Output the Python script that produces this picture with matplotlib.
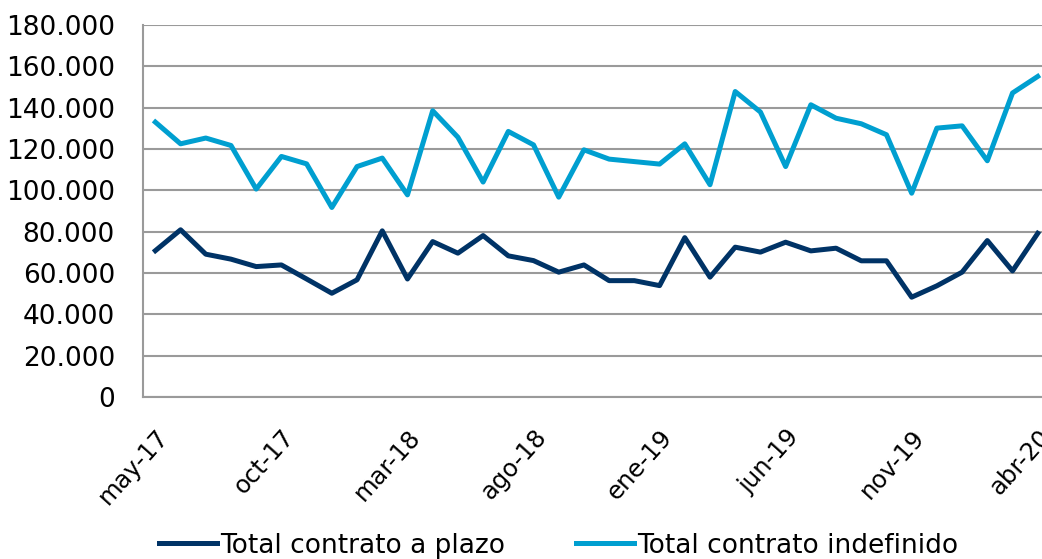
import matplotlib.pyplot as plt
from matplotlib.ticker import FuncFormatter

# meses de may-17 a abr-20
meses = ["may-17", "jun-17", "jul-17", "ago-17", "sep-17", "oct-17", "nov-17", "dic-17",
         "ene-18", "feb-18", "mar-18", "abr-18", "may-18", "jun-18", "jul-18", "ago-18",
         "sep-18", "oct-18", "nov-18", "dic-18", "ene-19", "feb-19", "mar-19", "abr-19",
         "may-19", "jun-19", "jul-19", "ago-19", "sep-19", "oct-19", "nov-19", "dic-19",
         "ene-20", "feb-20", "mar-20", "abr-20"]

plazo = [70800, 80900, 69100, 66700, 63100, 63900, 57100, 50200, 56700, 80400, 57100, 75200,
         69600, 78100, 68300, 66000, 60400, 63900, 56300, 56300, 53900, 77100, 58000, 72500,
         70100, 74900, 70700, 72000, 65900, 65900, 48300, 53800, 60400, 75700, 61000, 79200]

indefinido = [133000, 122500, 125300, 121700, 100600, 116400, 112800, 91700, 111500, 115600,
              97800, 138500, 125700, 104000, 128500, 122000, 96700, 119600, 115100, 113900,
              112700, 122500, 102700, 147800, 137900, 111500, 141400, 134900, 132200, 126900,
              98600, 130100, 131200, 114300, 147100, 155100]

plt.rcParams['font.family'] = ['DejaVu Sans']

fig = plt.figure(figsize=(10.42, 5.59), dpi=100)
ax = fig.add_axes([0.137, 0.2898, 0.871, 0.6655])

x = range(len(meses))
ax.plot(x, plazo, color="#003366", lw=3.6, label="Total contrato a plazo")
ax.plot(x, indefinido, color="#009fd0", lw=3.6, label="Total contrato indefinido")

ax.set_xlim(-0.5, len(meses) - 0.5)
ax.set_ylim(0, 180000)
ax.set_yticks(range(0, 180001, 20000))
ax.yaxis.set_major_formatter(FuncFormatter(lambda v, p: f"{int(v):,}".replace(",", ".")))
ax.grid(axis="y", color="#9a9a9a", lw=1.5)
ax.set_axisbelow(True)

pos = list(range(0, len(meses), 5))
ax.set_xticks(pos)
ax.set_xticklabels([meses[i] for i in pos], rotation=48, ha="right", rotation_mode="anchor")

for s in ["top", "right"]:
    ax.spines[s].set_visible(False)
for s in ["left", "bottom"]:
    ax.spines[s].set_color("#9a9a9a")
    ax.spines[s].set_linewidth(1.5)
ax.tick_params(axis="y", length=0, labelsize=19, colors="black", pad=20)
ax.tick_params(axis="x", length=0, labelsize=17.5, colors="black", pad=20)

fig.legend(loc="center", bbox_to_anchor=(0.536, 0.024), ncol=2, frameon=False,
           fontsize=19, handlelength=2.2, handletextpad=0.1, columnspacing=2.7)

fig.savefig("out.png", dpi=100)
